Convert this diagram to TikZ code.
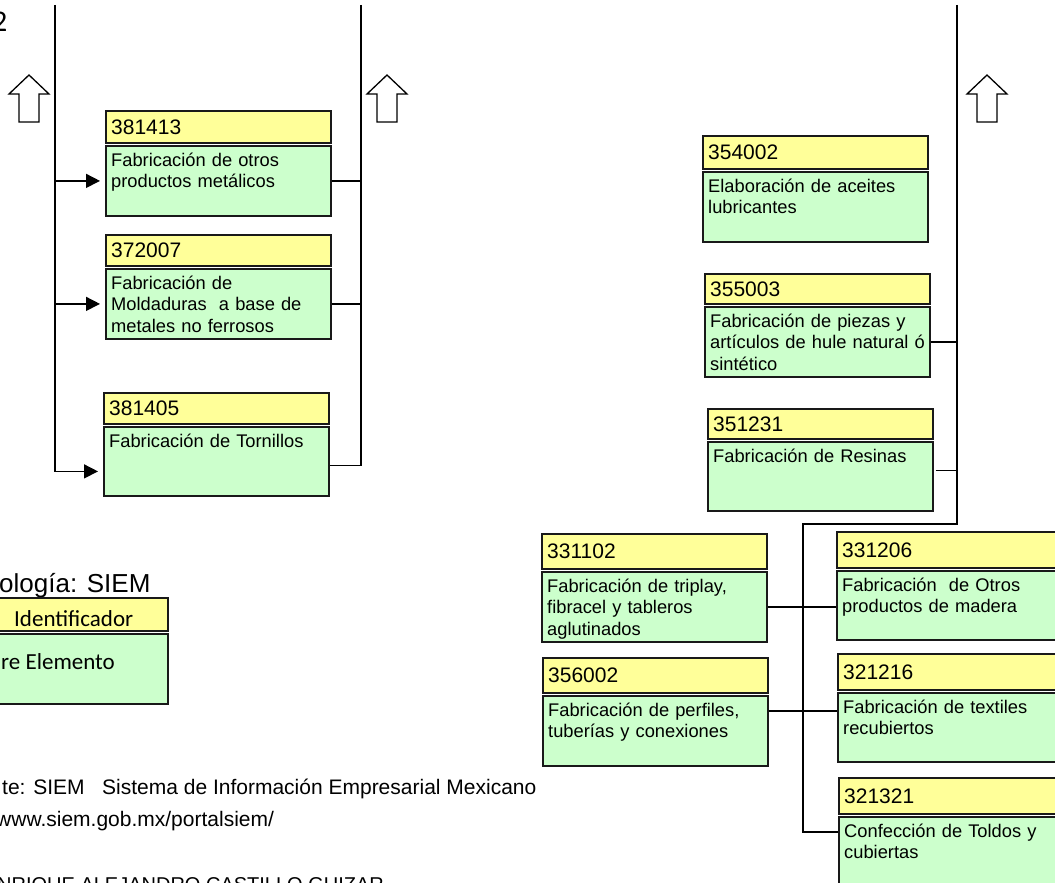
\documentclass[tikz,border=0pt]{standalone}
\usepackage{fontspec}
\setmainfont{Liberation Sans}
\newfontfamily\calibfont{Carlito}
\usepackage{xcolor}
\usetikzlibrary{arrows.meta}

\definecolor{hdryellow}{HTML}{FFFF99}
\definecolor{bdygreen}{HTML}{CCFFCC}

\tikzset{
  hdr/.style={draw=black!90, line width=1.6pt, fill=hdryellow, minimum width=225pt, inner sep=0pt, anchor=north west},
  bdy/.style={draw=black!90, line width=1.6pt, fill=bdygreen, minimum width=225pt, inner sep=0pt, anchor=north west},
  codetxt/.style={font=\fontsize{21}{24}\selectfont, inner sep=0pt, anchor=west},
  desctxt/.style={font=\fontsize{18.3}{21.5}\selectfont, inner sep=0pt, text width=222pt, align=left, anchor=base west},
  bigtxt/.style={font=\fontsize{21}{24}\selectfont, inner sep=0pt, anchor=base west},
  link/.style={line width=1.5pt},
  feed/.style={link, -{Triangle[length=14pt,width=14pt]}, shorten >=5pt},
  uparrow/.style={line width=1.3pt, fill=white}
}

% one SIEM element: name, x, y, header height, body height, code, description
\newcommand{\siembox}[7]{%
  \node[hdr, minimum height=#4pt] (#1h) at (#2,#3) {};
  \node[bdy, minimum height=#5pt] (#1) at ([yshift=-1.5pt]#1h.south west) {};
  \node[codetxt] (#1c) at ([xshift=6pt]#1h.west) {#6};
  \node[desctxt] (#1t) at ([shift={(6pt,-21pt)}]#1.north west) {#7};
}

\begin{document}
\begin{tikzpicture}[x=1pt, y=-1pt]
  \useasboundingbox (0,0) rectangle (1055,883);
  \clip (0,0) rectangle (1055,883);

  \node[anchor=base west, inner sep=0pt, font=\calibfont\fontsize{30}{32}\selectfont] (fignum) at (-8,32) {2};

  % spines
  \coordinate (lspine) at (55,5);
  \coordinate (rspine) at (361,5);
  \coordinate (rtrunk) at (957,5);
  \coordinate (fork) at (803,524);

  % block arrows
  \foreach \ax in {29,387,987}
    \draw[uparrow] (\ax-10,122) -- (\ax+10,122) -- (\ax+10,94) -- (\ax+20,94)
      -- (\ax,75) -- (\ax-20,94) -- (\ax-10,94) -- cycle;

  % left group
  \siembox{b381413}{105}{110}{32}{70}{381413}{Fabricación de otros\\productos metálicos}
  \siembox{b372007}{105}{234}{31}{70}{372007}{Fabricación de\\Moldaduras~ a base de\\metales no ferrosos}
  \siembox{b381405}{103}{392}{31}{69}{381405}{Fabricación de Tornillos}

  \draw[feed] (lspine |- b381413.west) -- (b381413.west);
  \draw[feed] (lspine |- b372007.west) -- (b372007.west);
  \draw[feed] (lspine) |- ([yshift=-10pt]b381405.west);
  \draw[link] (b381413.east) -- (b381413.east -| rspine);
  \draw[link] (b372007.east) -- (b372007.east -| rspine);
  \draw[link] (rspine) |- ([yshift=-4pt]b381405.east);

  % right group
  \siembox{b354002}{702}{135}{33}{70}{354002}{Elaboración de aceites\\lubricantes}
  \siembox{b355003}{704}{273}{30}{70}{355003}{Fabricación de piezas y\\artículos de hule natural ó\\sintético}
  \siembox{b351231}{707}{408}{30}{69}{351231}{Fabricación de Resinas}
  \siembox{b331102}{541}{533}{35}{70}{331102}{Fabricación de triplay,\\fibracel y tableros\\aglutinados}
  \siembox{b356002}{542}{657}{35}{70}{356002}{Fabricación de perfiles,\\tuberías y conexiones}
  \siembox{b331206}{836}{531}{36}{69}{331206}{Fabricación~ de Otros\\productos de madera}
  \siembox{b321216}{837}{653}{36}{69}{321216}{Fabricación de textiles\\recubiertos}
  \siembox{b321321}{838}{777}{36}{80}{321321}{Confección de Toldos y\\cubiertas}

  \draw[link] (b355003.east) -- (b355003.east -| rtrunk);
  \draw[link] ([shift={(2pt,6pt)}]b351231.east) -- ([yshift=6pt]b351231.east -| rtrunk);
  \draw[link] (rtrunk) |- (fork) -- (fork |- 0,832) -- (b321321.west |- 0,832);
  \draw[link] (b331102.east) -- (b331102.east -| b331206.west);
  \draw[link] (b356002.east |- 0,711) -- (b321216.west |- 0,711);

  % legend
  \node[bigtxt, font=\fontsize{26}{28}\selectfont] (legtitle) at (-1,592) {ología: SIEM};
  \node[hdr, minimum width=230pt, minimum height=33pt] (legh) at (-63,597) {};
  \node[bdy, minimum width=230pt, minimum height=70pt] (leg) at ([yshift=-1.5pt]legh.south west) {};
  \node[anchor=base west, inner sep=0pt, font=\calibfont\fontsize{23}{26}\selectfont] (legc) at (14,626) {Identificador};
  \node[anchor=base west, inner sep=0pt, font=\calibfont\fontsize{23}{26}\selectfont] (legt) at (1,669) {re Elemento};

  % source
  \node[bigtxt] (src) at (2,794) {te: SIEM\ \ \ Sistema de Información Empresarial Mexicano};
  \node[bigtxt] (url) at (-4,826) {www.siem.gob.mx/portalsiem/};
  \node[bigtxt, font=\fontsize{20}{24}\selectfont] (auth) at (-3,891) {NRIQUE ALEJANDRO CASTILLO GUIZAR};
\end{tikzpicture}
\end{document}
